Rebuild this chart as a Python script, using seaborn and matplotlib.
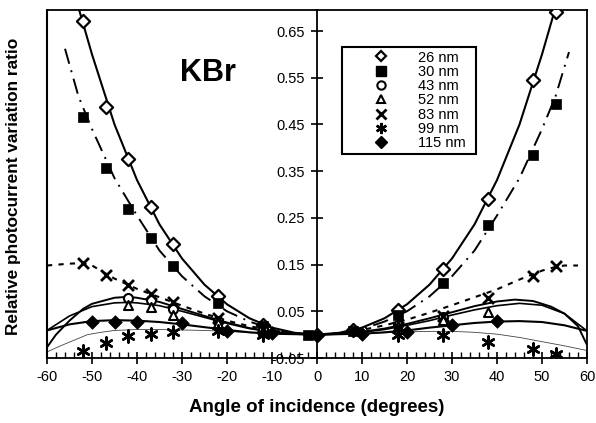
import matplotlib
matplotlib.use("Agg")
import matplotlib.pyplot as plt
import seaborn as sns
from matplotlib.lines import Line2D
from matplotlib.ticker import MultipleLocator, FixedLocator

# ---------------- data ----------------
labels = ["26 nm", "30 nm", "43 nm", "52 nm", "83 nm", "99 nm", "115 nm"]

x_26 = [-52, -47, -42, -37, -32, -22, -12, 0, 8, 18, 28, 38, 48, 53]
y_26 = [0.672, 0.488, 0.375, 0.274, 0.193, 0.082, 0.020, 0.0, 0.010, 0.052, 0.140, 0.290, 0.546, 0.690]

x_30 = [-52, -47, -42, -37, -32, -22, -12, -2, 8, 18, 28, 38, 48, 53]
y_30 = [0.465, 0.356, 0.270, 0.206, 0.146, 0.067, 0.018, 0.0, 0.007, 0.043, 0.110, 0.234, 0.384, 0.494]

x_43 = [-42, -37, -32, -22, -12, 18, 28]
y_43 = [0.078, 0.074, 0.054, 0.030, 0.010, 0.020, 0.037]

x_52 = [-42, -37, -32, -22, -12, 18, 28, 38]
y_52 = [0.063, 0.059, 0.043, 0.025, 0.008, 0.018, 0.031, 0.048]

x_83 = [-52, -47, -42, -37, -32, -22, -12, 18, 28, 38, 48, 53]
y_83 = [0.153, 0.127, 0.106, 0.086, 0.069, 0.035, 0.012, 0.016, 0.039, 0.078, 0.125, 0.148]

x_99 = [-52, -47, -42, -37, -32, -22, -12, 18, 28, 38, 48, 53]
y_99 = [-0.035, -0.018, -0.003, 0.001, 0.005, 0.007, 0.000, -0.001, -0.001, -0.016, -0.031, -0.042]

x_115 = [-50, -45, -40, -30, -20, -10, 0, 10, 20, 30, 40]
y_115 = [0.028, 0.028, 0.027, 0.024, 0.008, 0.003, 0.0, 0.001, 0.005, 0.020, 0.029]

# trend curves
cx_26 = [-54, -53, -50, -45, -40, -35, -30, -25, -20, -15, -10, -5, 0, 5, 10, 15, 20, 25, 30, 35, 40, 45, 50, 53, 54]
cy_26 = [0.745, 0.700, 0.600, 0.450, 0.331, 0.236, 0.163, 0.107, 0.065, 0.035, 0.015, 0.004, 0.0,
         0.004, 0.015, 0.035, 0.065, 0.107, 0.163, 0.236, 0.331, 0.450, 0.600, 0.700, 0.745]

cx_30 = [-56, -53, -50, -45, -40, -35, -30, -25, -20, -15, -10, -5, 0, 5, 10, 15, 20, 25, 30, 35, 40, 45, 50, 53, 56]
cy_30 = [0.612, 0.510, 0.440, 0.335, 0.255, 0.180, 0.125, 0.082, 0.050, 0.028, 0.012, 0.003, 0.0,
         0.003, 0.012, 0.028, 0.050, 0.082, 0.125, 0.180, 0.255, 0.335, 0.440, 0.510, 0.605]

cx_43 = [-60, -58, -55, -52, -50, -45, -42, -40, -35, -30, -25, -20, -15, -10, -5, 0,
         5, 10, 15, 20, 25, 30, 35, 40, 44, 48, 52, 55, 58, 60]
cy_43 = [-0.027, 0.000, 0.030, 0.055, 0.066, 0.079, 0.081, 0.079, 0.070, 0.055, 0.040, 0.026, 0.014, 0.006, 0.0015, 0.0,
         0.0015, 0.006, 0.013, 0.023, 0.035, 0.048, 0.061, 0.071, 0.075, 0.072, 0.060, 0.045, 0.018, -0.022]

cx_52 = [-60, -55, -50, -45, -42, -40, -35, -30, -25, -20, -15, -10, -5, 0,
         5, 10, 15, 20, 25, 30, 35, 40, 45, 50, 55, 60]
cy_52 = [0.009, 0.040, 0.060, 0.068, 0.069, 0.068, 0.062, 0.050, 0.037, 0.024, 0.013, 0.006, 0.0015, 0.0,
         0.0015, 0.005, 0.011, 0.020, 0.030, 0.042, 0.053, 0.062, 0.067, 0.063, 0.045, 0.008]

cx_83 = [-60, -55, -52, -50, -45, -40, -35, -30, -25, -20, -15, -10, -5, 0,
         5, 10, 15, 20, 25, 30, 35, 40, 45, 50, 53, 55, 58]
cy_83 = [0.148, 0.152, 0.153, 0.148, 0.120, 0.098, 0.080, 0.062, 0.045, 0.030, 0.018, 0.009, 0.003, 0.0,
         0.003, 0.010, 0.020, 0.032, 0.047, 0.063, 0.080, 0.097, 0.118, 0.137, 0.145, 0.148, 0.148]

cx_99 = [-60, -57, -54, -51, -48, -45, -40, -35, -30, -25, -20, -15, -10, 0,
         10, 15, 20, 25, 30, 35, 40, 45, 50, 55, 60]
cy_99 = [-0.037, -0.024, -0.012, 0.000, 0.005, 0.009, 0.011, 0.011, 0.010, 0.009, 0.007, 0.004, 0.002, 0.0,
         0.002, 0.004, 0.006, 0.007, 0.007, 0.005, 0.001, -0.006, -0.015, -0.024, -0.034]

cx_115 = [-60, -55, -50, -45, -40, -35, -30, -25, -20, -15, -10, 0,
          10, 15, 20, 25, 30, 35, 40, 45, 50, 55, 60]
cy_115 = [0.009, 0.022, 0.029, 0.031, 0.030, 0.027, 0.022, 0.016, 0.010, 0.005, 0.002, 0.0,
          0.002, 0.005, 0.009, 0.015, 0.020, 0.025, 0.028, 0.029, 0.027, 0.020, 0.008]

x_ticks = [-60, -50, -40, -30, -20, -10, 0, 10, 20, 30, 40, 50, 60]
y_ticks = [-0.05, 0.05, 0.15, 0.25, 0.35, 0.45, 0.55, 0.65]
y_tick_labels = ["-0.05", "0.05", "0.15", "0.25", "0.35", "0.45", "0.55", "0.65"]

# ---------------- figure ----------------
sns.set_style("white")
plt.rcParams["font.family"] = ["Liberation Sans", "DejaVu Sans"]
for key in ["text.color", "axes.labelcolor", "xtick.color", "ytick.color", "axes.edgecolor"]:
    plt.rcParams[key] = "black"

fig = plt.figure(figsize=(5.96, 4.23), dpi=100)
ax = fig.add_axes([47 / 596, 65 / 423, 540 / 596, 348 / 423])

K = "black"
# curves
sns.lineplot(x=cx_26, y=cy_26, ax=ax, color=K, lw=1.5, sort=False)
sns.lineplot(x=cx_30, y=cy_30, ax=ax, color=K, lw=1.4, linestyle=(0, (8, 3.5, 1, 3.5)), sort=False)
sns.lineplot(x=cx_43, y=cy_43, ax=ax, color=K, lw=1.4, sort=False)
sns.lineplot(x=cx_52, y=cy_52, ax=ax, color=K, lw=1.2, sort=False)
sns.lineplot(x=cx_83, y=cy_83, ax=ax, color=K, lw=1.5, linestyle=(0, (2.5, 3)), sort=False)
sns.lineplot(x=cx_99, y=cy_99, ax=ax, color="#444444", lw=0.6, sort=False)
sns.lineplot(x=cx_115, y=cy_115, ax=ax, color=K, lw=1.5, sort=False)

# markers
sns.scatterplot(x=x_26, y=y_26, ax=ax, marker="D", s=45, facecolor="white", edgecolor=K, linewidth=1.6, zorder=5)
sns.scatterplot(x=x_30, y=y_30, ax=ax, marker="s", s=62, color=K, edgecolor=K, linewidth=0.5, zorder=5)
sns.scatterplot(x=x_43, y=y_43, ax=ax, marker="o", s=42, facecolor="white", edgecolor=K, linewidth=1.5, zorder=5)
sns.scatterplot(x=x_52, y=y_52, ax=ax, marker="^", s=42, facecolor="white", edgecolor=K, linewidth=1.5, zorder=5)
sns.scatterplot(x=x_83, y=y_83, ax=ax, marker="x", s=62, color=K, linewidth=2.0, zorder=5)
sns.scatterplot(x=x_99, y=y_99, ax=ax, marker=(6, 2, 0), s=75, color=K, edgecolor=K, linewidth=1.8, zorder=5)
sns.scatterplot(x=x_115, y=y_115, ax=ax, marker="D", s=48, color=K, edgecolor=K, linewidth=0.5, zorder=5)

ax.set_xlim(-60, 60)
ax.set_ylim(-0.05, 0.695)

# axes styling: y axis through x = 0
ax.spines["left"].set_position(("data", 0))
for s in ["left", "right", "top", "bottom"]:
    ax.spines[s].set_color(K)
    ax.spines[s].set_linewidth(1.3)
ax.plot([0, 0], [0, 1], transform=ax.transAxes, color=K, lw=1.5, clip_on=False)

ax.set_xticks(x_ticks)
ax.set_xticklabels([str(v) for v in x_ticks])
ax.xaxis.set_minor_locator(MultipleLocator(2))
ax.tick_params(axis="x", which="major", direction="inout", length=9, width=1.2, colors=K,
               labelsize=10.5, pad=4, bottom=True)
ax.tick_params(axis="x", which="minor", direction="in", length=4, width=1.0, colors=K, bottom=True)

ax.yaxis.set_major_locator(FixedLocator(y_ticks))
ax.set_yticklabels(y_tick_labels)
ax.tick_params(axis="y", which="major", direction="inout", length=9, width=1.2, colors=K,
               labelsize=10.5, pad=4, left=True)

ax.set_xlabel("Angle of incidence (degrees)", fontsize=13.5, fontweight="bold", labelpad=11, color=K)
ax.set_ylabel("")
fig.text(14 / 596, 1 - 186 / 423, "Relative photocurrent variation ratio", rotation=90,
         fontsize=12.4, fontweight="bold", ha="center", va="center", color=K)

ax.text(-24.2, 0.56, "KBr", fontsize=22, fontweight="bold", ha="center", va="center", color=K)

handles = [
    Line2D([], [], ls="none", marker="D", ms=5.5, mfc="white", mec=K, mew=1.6),
    Line2D([], [], ls="none", marker="s", ms=7, mfc=K, mec=K),
    Line2D([], [], ls="none", marker="o", ms=6, mfc="white", mec=K, mew=1.5),
    Line2D([], [], ls="none", marker="^", ms=6, mfc="white", mec=K, mew=1.5),
    Line2D([], [], ls="none", marker="x", ms=7, mec=K, mew=2.0),
    Line2D([], [], ls="none", marker=(6, 2, 0), ms=8, mec=K, mew=1.8),
    Line2D([], [], ls="none", marker="D", ms=6, mfc=K, mec=K),
]
leg = ax.legend(handles, labels, loc="upper left",
                bbox_to_anchor=(0.546, 0.594, 0.248, 0.300), mode="expand",
                frameon=True, fancybox=False, fontsize=10.5, handlelength=4.9,
                handletextpad=0.05, labelspacing=0.02, borderpad=0.25, borderaxespad=0,
                edgecolor=K, framealpha=1, numpoints=1)
leg.get_frame().set_linewidth(1.5)

fig.savefig("out.png", dpi=100)
